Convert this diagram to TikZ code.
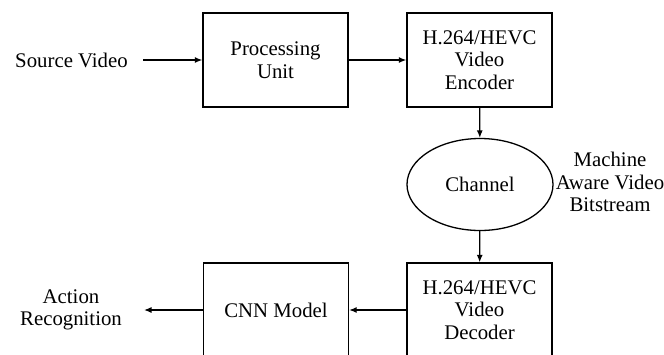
\documentclass[tikz,border=0pt]{standalone}
\usepackage{fontspec}
\setmainfont{Liberation Serif}
\usetikzlibrary{shapes.geometric,arrows.meta}
\begin{document}
\begin{tikzpicture}[x=1pt,y=-1pt,
  every node/.style={font=\fontsize{20.8}{22.5}\selectfont, align=center, inner sep=0pt},
  blk/.style={draw, line width=1.3pt, minimum width=145pt, minimum height=94pt},
  chan/.style={draw, ellipse, line width=1.3pt, minimum width=146pt, minimum height=92pt},
  conn/.style={line width=1.3pt, -{Latex[length=7.5pt,width=6pt]}}]
\useasboundingbox (0,0) rectangle (664,354);
\clip (0,0) rectangle (664,354);
\node[blk] (proc) at (275.5,60) {Processing\\Unit};
\node[blk] (enc) at (479.5,60) {H.264/HEVC\\Video\\Encoder};
\node[chan] (ch) at (480,184.5) {Channel};
\node (mav) at (610,182) {Machine\\Aware Video\\Bitstream};
\node[blk] (dec) at (479.5,310) {H.264/HEVC\\Video\\Decoder};
\node[blk] (cnn) at (276,310) {CNN Model};
\node (src) at (71.5,60) {Source Video};
\node (act) at (71,310) {Action\\Recognition};
\coordinate (srcend) at (143,60);
\coordinate (actend) at (144,310);
\draw[conn] (srcend) -- (proc.west);
\draw[conn] (proc) -- (enc);
\draw[conn] (enc) -- (ch);
\draw[conn] (ch) -- (dec);
\draw[conn] (dec) -- (cnn);
\draw[conn] (cnn.west) -- (actend);
\end{tikzpicture}
\end{document}
